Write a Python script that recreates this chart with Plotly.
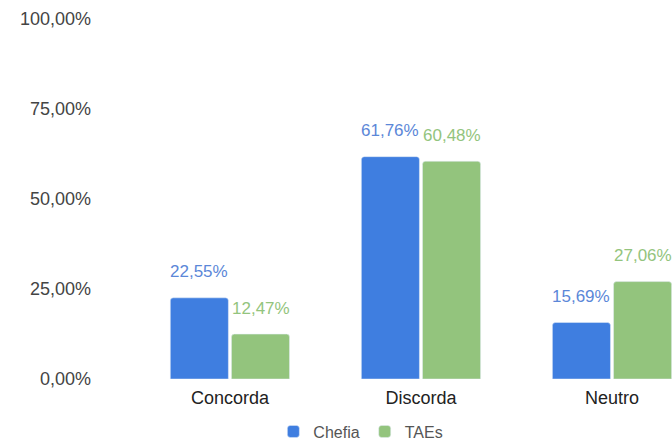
import plotly.graph_objects as go

categorias = ["Concorda", "Discorda", "Neutro"]
chefia = [22.55, 61.76, 15.69]
taes = [12.47, 60.48, 27.06]
y_ticks = [0, 25, 50, 75, 100]
y_tick_labels = ["0,00%", "25,00%", "50,00%", "75,00%", "100,00%"]

AZUL = "#3f7ee0"
VERDE = "#93c47d"
AZUL_TXT = "#5b87d8"
VERDE_TXT = "#93c47d"
FONTE = "Arial, Liberation Sans, sans-serif"


def fmt(v):
    return f"{v:.2f}".replace(".", ",") + "%"


fig = go.Figure()
fig.add_trace(go.Bar(name="Chefia", x=categorias, y=chefia, marker_color=AZUL))
fig.add_trace(go.Bar(name="TAEs", x=categorias, y=taes, marker_color=VERDE))

# value labels above each bar
for serie, cor, dx in ((chefia, AZUL_TXT, -31), (taes, VERDE_TXT, 31)):
    for cat, v in zip(categorias, serie):
        fig.add_annotation(
            x=cat, y=v, text=fmt(v), showarrow=False,
            xshift=dx, yshift=26, yanchor="middle",
            font=dict(family=FONTE, size=17, color=cor),
        )

fig.update_layout(
    width=672, height=444,
    margin=dict(l=100, r=0, t=19, b=65),
    paper_bgcolor="white", plot_bgcolor="white",
    barmode="group", bargap=0.36, bargroupgap=0.05, barcornerradius=3,
    font=dict(family=FONTE, size=18, color="#444444"),
    xaxis=dict(range=[-0.68, 2.314], showgrid=False, zeroline=False,
               showline=False, ticks="", ticklabelstandoff=6,
               tickfont=dict(color="#222222", size=18)),
    yaxis=dict(range=[0, 100], tickvals=y_ticks, ticktext=y_tick_labels,
               showgrid=False, zeroline=False, showline=False, ticks="",
               ticklabelstandoff=8, tickfont=dict(color="#444444", size=18)),
    legend=dict(orientation="h", xref="container", yref="container",
                x=0.537, y=0.028, xanchor="center", yanchor="middle",
                font=dict(size=16, color="#555555")),
)

fig.write_html("out.html")
